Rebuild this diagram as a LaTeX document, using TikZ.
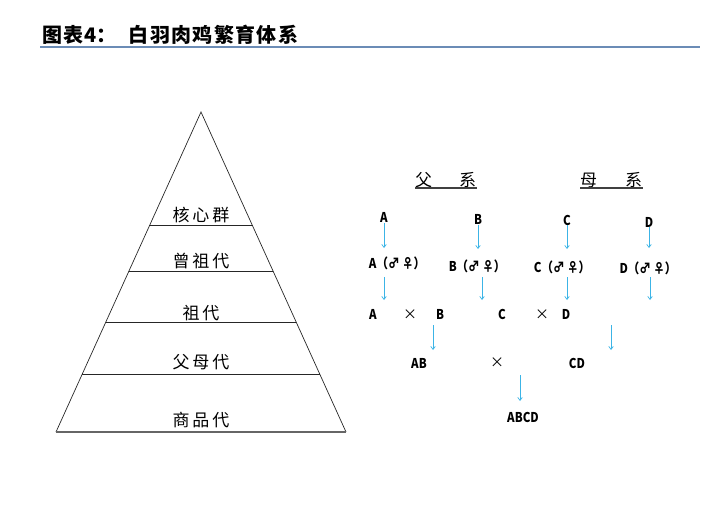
\documentclass[tikz,border=0pt]{standalone}
\usepackage{fontspec}
\setmainfont{Noto Sans CJK SC}
\newfontfamily\cjk{Noto Sans CJK SC}
\newfontfamily\cjkn{Noto Sans CJK SC}[FakeStretch=0.85]
\usetikzlibrary{arrows.meta,calc}
\definecolor{rulecol}{RGB}{107,140,182}
\definecolor{arrcol}{RGB}{60,180,230}
\newcommand{\ts}{\hspace{1.3pt}}
\newcommand{\ls}{\hspace{3pt}}
\tikzset{
  lvl/.style={font=\cjk\fontsize{17}{17}\selectfont, inner sep=0pt},
  let/.style={font=\cjkn\bfseries\fontsize{13.5}{13.5}\selectfont, inner sep=0pt},
  crs/.style={font=\cjk\fontsize{14}{14}\selectfont, inner sep=0pt},
  hdr/.style={font=\cjk\fontsize{17}{17}\selectfont, inner sep=0pt},
  arr/.style={draw=arrcol, line width=0.7pt, -{Straight Barb[length=3pt,width=4.5pt]}},
  pyr/.style={draw=black!85, line width=0.7pt},
}
\begin{document}
\begin{tikzpicture}[x=1pt,y=-1pt]
\useasboundingbox (0,0) rectangle (710,506);
% title
\node[anchor=west, inner sep=0pt, font=\cjk\bfseries\fontsize{20}{20}\selectfont] (title) at (42,35) {图\ts 表\ts 4：\hspace{12pt}白\ts 羽\ts 肉\ts 鸡\ts 繁\ts 育\ts 体\ts 系};
\draw[rulecol, line width=2pt] (40,47) -- (700,47);
% pyramid
\coordinate (apex) at (201,112);
\coordinate (bl) at (56,432);
\coordinate (br) at (346,432);
\draw[pyr] (bl) -- (apex) -- (br);
\draw[draw=black!60, line width=1.2pt] (bl) -- (br);
\foreach \t in {0.3553,0.4991,0.6584,0.8188}{
  \draw[pyr] ($(apex)!\t!(bl)$) -- ($(apex)!\t!(br)$);
}
\node[lvl] (l1) at (201,215) {核\ls 心\ls 群};
\node[lvl] (l2) at (201,261) {曾\ls 祖\ls 代};
\node[lvl] (l3) at (201,313) {祖\ls 代};
\node[lvl] (l4) at (201,362) {父\ls 母\ls 代};
\node[lvl] (l5) at (201,420) {商\ls 品\ls 代};
% headers
\node[hdr, anchor=west] (fx) at (415,180) {父\hspace{27pt}系};
\node[hdr, anchor=west] (mx) at (580,180) {母\hspace{28pt}系};
\draw[black!75, line width=1.3pt] (415,188) -- (477,188);
\draw[black!75, line width=1.3pt] (580,188) -- (643,188);
% row 1
\node[let] (A) at (384,217) {A};
\node[let] (B) at (478,219) {B};
\node[let] (C) at (567,220) {C};
\node[let] (D) at (649,222) {D};
% row 2
\node[let] (Ams) at (397,263) {A（♂ ♀）};
\node[let] (Bms) at (477,266) {B（♂ ♀）};
\node[let] (Cms) at (562,267) {C（♂ ♀）};
\node[let] (Dms) at (648,268) {D（♂ ♀）};
% arrows row1 -> row2
\coordinate (a1) at (384,223);
\coordinate (b1) at (478,225);
\coordinate (c1) at (567,225);
\coordinate (d1) at (649,227);
\draw[arr] (a1) -- (a1 |- 0,248);
\draw[arr] (b1) -- (b1 |- 0,249);
\draw[arr] (c1) -- (c1 |- 0,249);
\draw[arr] (d1) -- (d1 |- 0,248);
% arrows row2 -> row3
\coordinate (a2) at (384,277);
\coordinate (b2) at (482,277);
\coordinate (c2) at (567,277);
\coordinate (d2) at (650,277);
\foreach \c in {a2,b2,c2,d2}{ \draw[arr] (\c) -- ++(0,23); }
% row 3
\node[let] (A3) at (373,314) {A};
\node[crs] (x1) at (410,315) {×};
\node[let] (B3) at (440,314) {B};
\node[let] (C3) at (502,314) {C};
\node[crs] (x2) at (542,315) {×};
\node[let] (D3) at (566,314) {D};
\coordinate (ab) at (433,325);
\coordinate (cd) at (611,325);
\draw[arr] (ab) -- ++(0,25);
\draw[arr] (cd) -- ++(0,25);
% row 4
\node[let] (AB) at (419,363) {AB};
\node[crs] (x3) at (497,363) {×};
\node[let] (CD) at (577,363) {CD};
\coordinate (abcd) at (520,375);
\draw[arr] (abcd) -- ++(0,26);
\node[let] (ABCD) at (523,417) {ABCD};
\end{tikzpicture}
\end{document}
